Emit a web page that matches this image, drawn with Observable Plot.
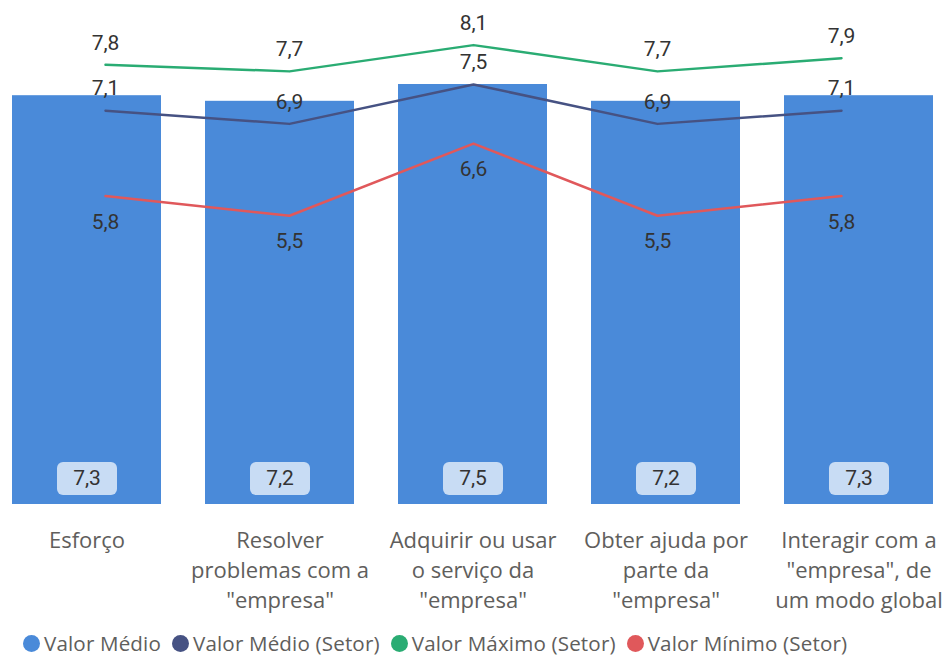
<!DOCTYPE html>
<html>
<head>
<meta charset="utf-8">
<script src="https://cdn.jsdelivr.net/npm/d3@7"></script>
<script src="https://cdn.jsdelivr.net/npm/@observablehq/plot@0.6"></script>
<style>
  body { margin: 0; background: #fff; }
  #chart { position: relative; width: 949px; height: 658px; overflow: hidden; }
  #chart svg { position: absolute; left: 0; top: 0; }
  #legend { position: absolute; left: 23px; top: 632px; height: 22px; line-height: 22px; display: flex; align-items: center;
            font-family: "Open Sans", sans-serif; font-size: 20.6px; letter-spacing: 0.15px; color: #605e5c; white-space: nowrap; }
  .item { display: flex; align-items: center; margin-right: 11px; }
  .sw { width: 17px; height: 17px; border-radius: 50%; margin-right: 4px; }
</style>
</head>
<body>
<div id="chart"></div>
<script>
const categories = [
  "Esforço",
  "Resolver problemas com a \"empresa\"",
  "Adquirir ou usar o serviço da \"empresa\"",
  "Obter ajuda por parte da \"empresa\"",
  "Interagir com a \"empresa\", de um modo global"
];
const tickLabels = [
  "Esforço",
  "Resolver\nproblemas com a\n\"empresa\"",
  "Adquirir ou usar\no serviço da\n\"empresa\"",
  "Obter ajuda por\nparte da\n\"empresa\"",
  "Interagir com a\n\"empresa\", de\num modo global"
];
const valorMedio = [7.3, 7.2, 7.5, 7.2, 7.3];
const valorMedioSetor = [7.1, 6.9, 7.5, 6.9, 7.1];
const valorMaximoSetor = [7.8, 7.7, 8.1, 7.7, 7.9];
const valorMinimoSetor = [5.8, 5.5, 6.6, 5.5, 5.8];
const seriesNames = ["Valor Médio", "Valor Médio (Setor)", "Valor Máximo (Setor)", "Valor Mínimo (Setor)"];
const seriesColors = ["#4a8ad9", "#465283", "#2aac73", "#e0585b"];

const fmt = v => v.toFixed(1).replace(".", ",");
const bars = categories.map((c, i) => ({cat: c, value: valorMedio[i]}));
const lineRows = (vals, key) => categories.map((c, i) => ({cat: c, value: vals[i], series: key}));
const medioSetor = lineRows(valorMedioSetor, seriesNames[1]);
const maximo = lineRows(valorMaximoSetor, seriesNames[2]);
const minimo = lineRows(valorMinimoSetor, seriesNames[3]);
const tickMap = new Map(categories.map((c, i) => [c, tickLabels[i]]));

const W = 949, H = 628;
const common = {
  width: W, height: H,
  marginLeft: 12, marginRight: 16, marginTop: 0, marginBottom: 124,
  x: {domain: categories, paddingInner: 0.228, paddingOuter: 0}
};

// rounded box symbol for bar value labels
const roundBox = {
  draw(ctx) {
    const w = 30, h = 16.5, r = 6;
    ctx.moveTo(-w + r, -h);
    ctx.lineTo(w - r, -h);
    ctx.arcTo(w, -h, w, -h + r, r);
    ctx.lineTo(w, h - r);
    ctx.arcTo(w, h, w - r, h, r);
    ctx.lineTo(-w + r, h);
    ctx.arcTo(-w, h, -w, h - r, r);
    ctx.lineTo(-w, -h + r);
    ctx.arcTo(-w, -h, -w + r, -h, r);
    ctx.closePath();
  }
};

const barPlot = Plot.plot({
  ...common,
  style: {background: "transparent", fontFamily: "Open Sans, sans-serif", color: "#605e5c"},
  y: {domain: [0, 9], axis: null},
  marks: [
    Plot.barY(bars, {x: "cat", y: "value", fill: seriesColors[0]}),
    Plot.dot(bars, {x: "cat", y: 0, dy: -26, symbol: roundBox, fill: "#c8dcf4", stroke: "none"}),
    Plot.text(bars, {x: "cat", y: 0, dy: -26, text: d => fmt(d.value), fill: "#333",
      fontFamily: "Roboto, sans-serif", fontSize: 21}),
    Plot.axisX({tickSize: 0, tickPadding: 22, tickFormat: d => tickMap.get(d), fontSize: 22,
      lineHeight: 1.36, fill: "#605e5c", fontFamily: "Open Sans, sans-serif", label: null})
  ]
});

const labelOpts = {fill: "#333", fontFamily: "Roboto, sans-serif", fontSize: 21};
const linePlot = Plot.plot({
  ...common,
  style: {background: "transparent", overflow: "visible"},
  y: {domain: [1.1, 8.78], axis: null},
  x: {...common.x, axis: null},
  marks: [
    Plot.line(maximo, {x: "cat", y: "value", stroke: seriesColors[2], strokeWidth: 2.5}),
    Plot.line(medioSetor, {x: "cat", y: "value", stroke: seriesColors[1], strokeWidth: 2.5}),
    Plot.line(minimo, {x: "cat", y: "value", stroke: seriesColors[3], strokeWidth: 2.5}),
    Plot.text(maximo, {x: "cat", y: "value", dy: -22, text: d => fmt(d.value), ...labelOpts}),
    Plot.text(medioSetor, {x: "cat", y: "value", dy: -22, text: d => fmt(d.value), ...labelOpts}),
    Plot.text(minimo, {x: "cat", y: "value", dy: 26, text: d => fmt(d.value), ...labelOpts})
  ]
});

const chart = document.getElementById("chart");
chart.appendChild(barPlot);
chart.appendChild(linePlot);

const legend = document.createElement("div");
legend.id = "legend";
seriesNames.forEach((name, i) => {
  const item = document.createElement("div");
  item.className = "item";
  const sw = document.createElement("span");
  sw.className = "sw";
  sw.style.background = seriesColors[i];
  const t = document.createElement("span");
  t.textContent = name;
  item.appendChild(sw);
  item.appendChild(t);
  legend.appendChild(item);
});
chart.appendChild(legend);
</script>
</body>
</html>
